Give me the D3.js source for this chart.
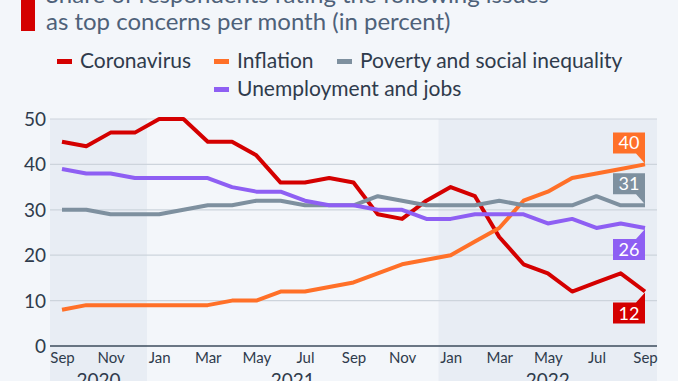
<!DOCTYPE html>
<html>
<head>
<meta charset="utf-8">
<script src="https://cdn.jsdelivr.net/npm/d3@7"></script>
<style>
  body { margin: 0; background: #f3f6fa; }
  svg { display: block; font-family: Lato, "Open Sans", sans-serif; }
</style>
</head>
<body>
<svg width="678" height="381"></svg>
<script>
// months Sep 2020 .. Sep 2022
var months = ['Sep','Oct','Nov','Dec','Jan','Feb','Mar','Apr','May','Jun','Jul','Aug',
              'Sep','Oct','Nov','Dec','Jan','Feb','Mar','Apr','May','Jun','Jul','Aug','Sep'];
var years = [{ year: '2020', from: 0, to: 3 }, { year: '2021', from: 4, to: 15 }, { year: '2022', from: 16, to: 24 }];
var yTicks = [0, 10, 20, 30, 40, 50];

var coronavirus  = [45,44,47,47,50,50,45,45,42,36,36,37,36,29,28,32,35,33,24,18,16,12,14,16,12];
var inflation    = [8,9,9,9,9,9,9,10,10,12,12,13,14,16,18,19,20,23,26,32,34,37,38,39,40];
var poverty      = [30,30,29,29,29,30,31,31,32,32,31,31,31,33,32,31,31,31,32,31,31,31,33,31,31];
var unemployment = [39,38,38,37,37,37,37,35,34,34,32,31,31,30,30,28,28,29,29,29,27,28,26,27,26];

var series = [
  { name: 'Coronavirus', values: coronavirus, color: '#d40000', labelBelow: true },
  { name: 'Inflation', values: inflation, color: '#ff7028', labelBelow: false },
  { name: 'Poverty and social inequality', values: poverty, color: '#7e909f', labelBelow: false },
  { name: 'Unemployment and jobs', values: unemployment, color: '#8e5ff3', labelBelow: true }
];

var svg = d3.select('svg');
var plotLeft = 50, plotRight = 657, plotTop = 119, plotBottom = 346;

var x = d3.scaleLinear().domain([0, months.length - 1]).range([62, 645]);
var y = d3.scaleLinear().domain([0, 50]).range([plotBottom, plotTop]);

// year bands (shaded 2020 and 2022)
function bandEdge(i) { return i <= 0 ? plotLeft : (i >= months.length ? plotRight : (x(i - 1) + x(i)) / 2); }
svg.selectAll('rect.band')
  .data(years.filter(function(d, i) { return i !== 1; }))
  .enter().append('rect')
    .attr('class', 'band')
    .attr('x', function(d) { return bandEdge(d.from); })
    .attr('width', function(d) { return bandEdge(d.to + 1) - bandEdge(d.from); })
    .attr('y', plotTop)
    .attr('height', 381 - plotTop)
    .attr('fill', '#e8edf4');

// title
svg.append('rect').attr('x', 21).attr('y', 0).attr('width', 14).attr('height', 31).attr('fill', '#d40000');
var title = svg.append('text').attr('fill', '#4e6179').attr('font-size', 24);
title.append('tspan').attr('x', 46).attr('y', 3).text('Share of respondents rating the following issues');
title.append('tspan').attr('x', 46).attr('y', 30).text('as top concerns per month (in percent)');

// legend
var legendPos = [[57, 61], [214, 61], [337, 61], [214, 89]];
var legend = svg.selectAll('g.legend')
  .data(series)
  .enter().append('g')
    .attr('class', 'legend')
    .attr('transform', function(d, i) { return 'translate(' + legendPos[i][0] + ',' + legendPos[i][1] + ')'; });
legend.append('rect').attr('x', 0).attr('y', -2).attr('width', 15).attr('height', 5).attr('fill', function(d) { return d.color; });
legend.append('text').attr('x', 23).attr('y', 7).attr('font-size', 21).attr('fill', '#2f3b4c')
  .text(function(d) { return d.name; });

// grid + y labels
svg.selectAll('line.grid')
  .data(yTicks.slice(1))
  .enter().append('line')
    .attr('x1', plotLeft).attr('x2', plotRight)
    .attr('y1', function(d) { return y(d); }).attr('y2', function(d) { return y(d); })
    .attr('stroke', '#cdd4dc').attr('stroke-width', 1.2);

svg.selectAll('text.ylab')
  .data(yTicks)
  .enter().append('text')
    .attr('x', 46).attr('y', function(d) { return y(d) + 7; })
    .attr('text-anchor', 'end').attr('font-size', 19).attr('fill', '#2f3b4c')
    .text(function(d) { return d; });

// x axis
var xAxis = d3.axisBottom(x)
  .tickValues(d3.range(0, months.length, 2))
  .tickSize(0)
  .tickPadding(6)
  .tickFormat(function(i) { return months[i]; });
var gx = svg.append('g').attr('transform', 'translate(0,' + plotBottom + ')').call(xAxis);
gx.select('.domain').remove();
gx.attr('font-family', null);
gx.selectAll('text').attr('font-size', 15).attr('fill', '#2f3b4c');
svg.append('line').attr('x1', plotLeft).attr('x2', plotRight).attr('y1', plotBottom).attr('y2', plotBottom)
  .attr('stroke', '#3d4b5c').attr('stroke-width', 1.5);

svg.selectAll('text.year')
  .data(years)
  .enter().append('text')
    .attr('x', function(d) { return (bandEdge(d.from) + bandEdge(d.to + 1)) / 2; })
    .attr('y', 387)
    .attr('text-anchor', 'middle').attr('font-size', 19).attr('fill', '#2f3b4c')
    .text(function(d) { return d.year; });

// lines
var line = d3.line()
  .x(function(d, i) { return x(i); })
  .y(function(d) { return y(d); });

svg.selectAll('path.series')
  .data(series)
  .enter().append('path')
    .attr('class', 'series')
    .attr('d', function(d) { return line(d.values); })
    .attr('fill', 'none')
    .attr('stroke', function(d) { return d.color; })
    .attr('stroke-width', 4)
    .attr('stroke-linejoin', 'round');

// end labels
var labels = svg.selectAll('g.endlabel')
  .data(series)
  .enter().append('g')
    .attr('class', 'endlabel');
labels.append('path')
  .attr('fill', function(d) { return d.color; })
  .attr('d', function(d) {
    var last = d.values[d.values.length - 1];
    var px = x(d.values.length - 1), py = y(last);
    var bw = 32, bh = 21;
    if (d.labelBelow) {
      var t = py + 11;
      return 'M' + (px - bw) + ',' + t + 'H' + (px - 9) + 'L' + px + ',' + (py + 1) + 'V' + (t + bh) + 'H' + (px - bw) + 'Z';
    }
    var b = py - 11;
    return 'M' + (px - bw) + ',' + (b - bh) + 'H' + px + 'V' + (py - 1) + 'L' + (px - 9) + ',' + b + 'H' + (px - bw) + 'Z';
  });
labels.append('text')
  .attr('x', function(d) { return x(d.values.length - 1) - 16; })
  .attr('y', function(d) {
    var py = y(d.values[d.values.length - 1]);
    return d.labelBelow ? py + 28 : py - 15;
  })
  .attr('text-anchor', 'middle').attr('font-size', 18).attr('fill', '#fff')
  .text(function(d) { return d.values[d.values.length - 1]; });
</script>
</body>
</html>
